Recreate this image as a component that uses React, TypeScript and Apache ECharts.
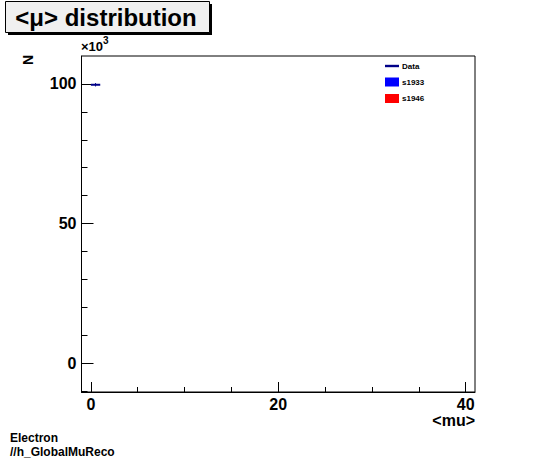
// Histograma <mu> (estilo ROOT): um bin de dados em ~100 ×10^3, moldura preta,
// ticks para dentro, titulo em caixa com sombra e legenda Data / s1933 / s1946.
import { useEffect, useRef } from 'react'
import * as echarts from 'echarts'

const FONTE = '"Liberation Sans", Arial, Helvetica, sans-serif'

// valores em unidades de 10^3
const binInicio = [0]
const binFim = [1]
const valoresDados = [99.7]
const errosDados = [0.6]
const valoresS1933: number[] = []
const valoresS1946: number[] = []

const xTicksMaiores = [0, 20, 40]
const xTicksMenores = [5, 10, 15, 25, 30, 35]
const yTicksMaiores = [0, 50, 100]
const yTicksMenores = [-10, 10, 20, 30, 40, 60, 70, 80, 90]

const nomesLegenda = ['Data', 's1933', 's1946']
const COR_DADOS = '#000088'

export default function App() {
  const ref = useRef<HTMLDivElement>(null)

  useEffect(() => {
    if (!ref.current) return
    const chart = echarts.init(ref.current, null, { renderer: 'svg' })

    const degraus = binInicio.flatMap((x0, i) => [
      [x0, valoresDados[i]],
      [binFim[i], valoresDados[i]],
    ])
    const barrasErro = binInicio.map((x0, i) => {
      const centro = (x0 + binFim[i]) / 2
      return {
        type: 'line',
        name: 'DataErr' + i,
        data: [
          [centro, valoresDados[i] - errosDados[i]],
          [centro, valoresDados[i] + errosDados[i]],
        ],
        symbol: 'none',
        lineStyle: { color: COR_DADOS, width: 1 },
        z: 5,
      }
    })

    const eixoX = {
      type: 'value',
      min: -1,
      max: 41,
      splitLine: { show: false },
    }
    const eixoY = {
      type: 'value',
      min: -10.3,
      max: 110,
      splitLine: { show: false },
    }

    chart.setOption({
      animation: false,
      backgroundColor: '#ffffff',
      grid: {
        left: 81.5,
        right: 71,
        top: 56,
        bottom: 70,
        show: true,
        borderColor: '#000',
        borderWidth: 1,
        backgroundColor: 'transparent',
      },
      xAxis: [
        {
          ...eixoX,
          position: 'bottom',
          axisLine: { show: true, onZero: false, lineStyle: { color: '#000', width: 1 } },
          axisTick: { show: true, inside: true, length: 10, customValues: xTicksMaiores, lineStyle: { color: '#000' } },
          axisLabel: {
            customValues: xTicksMaiores,
            margin: 4,
            color: '#000',
            fontSize: 16,
            fontWeight: 'bold',
            fontFamily: FONTE,
          },
        },
        {
          ...eixoX,
          position: 'bottom',
          axisLine: { show: false, onZero: false },
          axisTick: { show: true, inside: true, length: 5, customValues: xTicksMenores, lineStyle: { color: '#000' } },
          axisLabel: { show: false },
        },
      ],
      yAxis: [
        {
          ...eixoY,
          position: 'left',
          axisLine: { show: true, onZero: false, lineStyle: { color: '#000', width: 1 } },
          axisTick: { show: true, inside: true, length: 12, customValues: yTicksMaiores, lineStyle: { color: '#000' } },
          axisLabel: {
            customValues: yTicksMaiores,
            margin: 5,
            color: '#000',
            fontSize: 16,
            fontWeight: 'bold',
            fontFamily: FONTE,
          },
        },
        {
          ...eixoY,
          position: 'left',
          axisLine: { show: false, onZero: false },
          axisTick: { show: true, inside: true, length: 6, customValues: yTicksMenores, lineStyle: { color: '#000' } },
          axisLabel: { show: false },
        },
      ],
      legend: {
        orient: 'vertical',
        left: 385,
        top: 62,
        padding: 0,
        itemWidth: 14,
        itemHeight: 9,
        itemGap: 7.5,
        symbolKeepAspect: true,
        data: [
          { name: nomesLegenda[0], icon: 'path://M0 0H70V12H0Z', itemStyle: { color: COR_DADOS } },
          { name: nomesLegenda[1], icon: 'rect' },
          { name: nomesLegenda[2], icon: 'rect' },
        ],
        textStyle: { color: '#000', fontSize: 8, fontWeight: 'bold', fontFamily: FONTE, padding: [0, 0, 0, -2] },
        selectedMode: false,
      },
      series: [
        {
          type: 'line',
          name: nomesLegenda[0],
          data: degraus,
          symbol: 'none',
          showSymbol: false,
          lineStyle: { color: COR_DADOS, width: 2 },
          itemStyle: { color: COR_DADOS },
          z: 5,
        },
        ...barrasErro,
        {
          type: 'bar',
          name: nomesLegenda[1],
          data: valoresS1933,
          itemStyle: { color: '#0000ff' },
        },
        {
          type: 'bar',
          name: nomesLegenda[2],
          data: valoresS1946,
          itemStyle: { color: '#ff0000' },
        },
      ],
      graphic: [
        // caixa do titulo com sombra
        { type: 'rect', shape: { x: 8, y: 4, width: 204, height: 31 }, style: { fill: '#000' }, silent: true },
        {
          type: 'rect',
          shape: { x: 5.5, y: 1.5, width: 204, height: 31 },
          style: { fill: '#f0f0f0', stroke: '#000', lineWidth: 1 },
          silent: true,
        },
        {
          type: 'text',
          x: 106,
          y: 17,
          style: {
            text: '<μ> distribution',
            fill: '#000',
            font: `bold 24px ${FONTE}`,
            align: 'center',
            verticalAlign: 'middle',
          },
        },
        // titulo do eixo Y
        {
          type: 'text',
          x: 28,
          y: 60,
          rotation: Math.PI / 2,
          style: { text: 'N', fill: '#000', font: `bold 14px ${FONTE}`, align: 'center', verticalAlign: 'middle' },
        },
        // fator de escala ×10^3
        {
          type: 'text',
          x: 81,
          y: 53,
          style: { text: '×10', fill: '#000', font: `bold 13px ${FONTE}`, align: 'left', verticalAlign: 'bottom' },
        },
        {
          type: 'text',
          x: 103,
          y: 35,
          style: { text: '3', fill: '#000', font: `bold 10px ${FONTE}`, align: 'left', verticalAlign: 'top' },
        },
        // titulo do eixo X
        {
          type: 'text',
          x: 475,
          y: 420,
          style: { text: '<mu>', fill: '#000', font: `bold 16px ${FONTE}`, align: 'right', verticalAlign: 'middle' },
        },
        // rodape
        {
          type: 'text',
          x: 10,
          y: 438,
          style: { text: 'Electron', fill: '#000', font: `bold 12px ${FONTE}`, align: 'left', verticalAlign: 'middle' },
        },
        {
          type: 'text',
          x: 10,
          y: 452,
          style: { text: '//h_GlobalMuReco', fill: '#000', font: `bold 12px ${FONTE}`, align: 'left', verticalAlign: 'middle' },
        },
      ],
    })

    return () => chart.dispose()
  }, [])

  return <div ref={ref} style={{ position: 'absolute', left: 0, top: 0, width: 546, height: 462 }} />
}
